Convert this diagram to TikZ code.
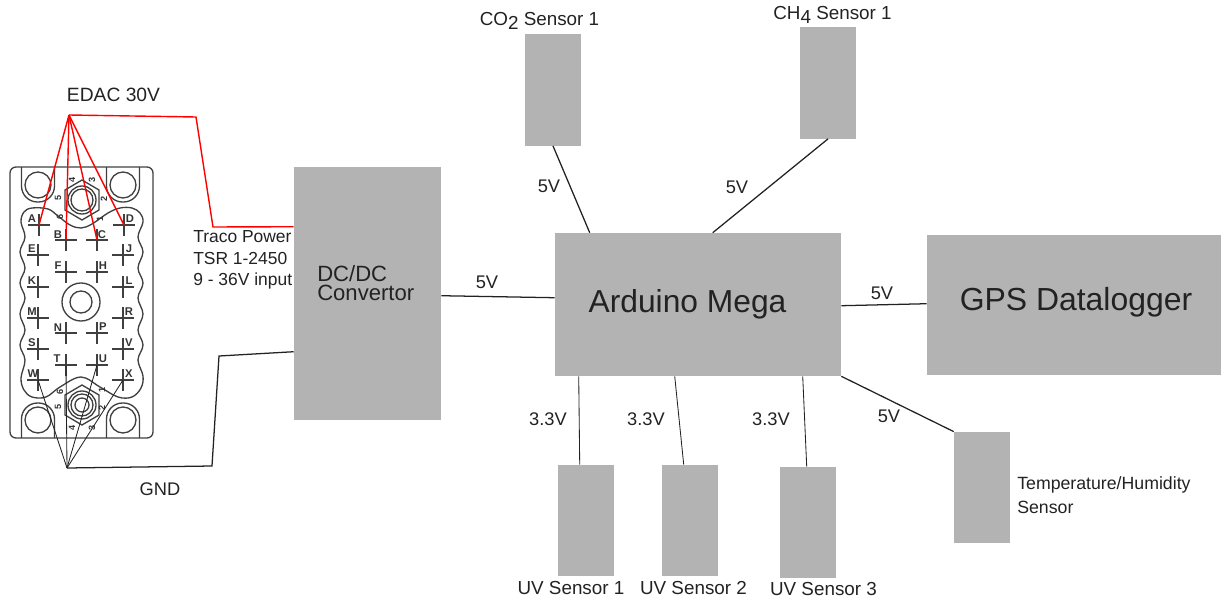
\documentclass[tikz,border=0pt]{standalone}
\usepackage{fontspec}
\setmainfont{Liberation Sans}
\usetikzlibrary{calc}
\definecolor{boxgray}{HTML}{B3B3B3}
\definecolor{inkgray}{HTML}{222222}
\newcommand{\lowdigit}[1]{\raisebox{-2.5pt}{#1}}
\tikzset{
	graybox/.style={fill=boxgray, draw=none, inner sep=0pt, text=inkgray},
	sensorbox/.style={graybox, minimum width=14mm, minimum height=27.8mm},
	lab/.style={inner sep=0pt, text=inkgray, font=\fontsize{13}{15}\selectfont},
	wire/.style={line width=0.9pt, draw=inkgray},
	thinwire/.style={line width=0.6pt, draw=inkgray},
	redwire/.style={line width=1pt, draw=red},
	board/.style={line width=0.95pt, draw=black!75},
	pinlabel/.style={inner sep=0pt, font=\fontsize{8}{8}\selectfont\bfseries, text=black!80},
	hexlabel/.style={inner sep=0pt, font=\fontsize{6.5}{6.5}\selectfont\bfseries, text=black!80}
}

\begin{document}
\begin{tikzpicture}[x=0.25mm, y=-0.25mm]
			\useasboundingbox (0, 0) rectangle (1222, 598);
			%%%%% BOARD %%%%%
			\draw[board, rounded corners=1.5mm] (10, 167) rectangle (153, 438);
			\foreach \hx in {38, 123} {
				\draw[board] (\hx, 185) circle (13);
				\draw[board] (\hx, 420) circle (13);
				\draw[board, rounded corners=4mm] ({\hx-16.5}, 167) -- ({\hx-16.5}, 202) -- ({\hx+16.5}, 202) -- ({\hx+16.5}, 167);
				\draw[board, rounded corners=4mm] ({\hx-16.5}, 438) -- ({\hx-16.5}, 403) -- ({\hx+16.5}, 403) -- ({\hx+16.5}, 438);
			}
			\draw[board] plot[smooth cycle, tension=0.6] coordinates {
				(21, 222) (24, 212) (32, 208) (48, 209) (58, 216) (70, 225) (81, 228) (92, 224) (108, 213) (120, 208)
				(132, 208) (140, 213) (143, 222) (138, 237) (143, 252) (138, 268) (143, 283) (138, 298) (143, 314)
				(138, 330) (143, 345) (138, 360) (143, 376) (141, 388) (132, 397) (118, 397) (100, 387) (81, 377)
				(60, 387) (46, 397) (32, 397) (24, 390) (21, 378) (25, 360) (20, 345) (25, 330) (20, 314) (25, 298)
				(20, 283) (25, 268) (20, 252) (25, 237)};
			\draw[board] (81, 302) circle (19);
			\draw[board] (81, 302) circle (11);
			
			\foreach \hy in {200, 405} {
				\draw[board] (82, {\hy-20}) -- (99, {\hy-10}) -- (99, {\hy+10}) -- (82, {\hy+20}) -- (65, {\hy+10}) -- (65, {\hy-10}) -- cycle;
				\draw[board] (82, \hy) circle (14);
				\draw[board] (82, \hy) circle (11);
			}
			\draw[board] (82, 405) circle (7);
			
			\foreach \dname/\dx/\dy/\drot in {h1/72/180/4, h2/92/180/3, h3/58/198/5, h4/104/199/2, h5/60/217/6, h6/100/219/1} {
				\node[hexlabel, rotate=90] (\dname) at (\dx, \dy) {\drot};
			}
			\foreach \dname/\dx/\dy/\drot in {k1/60/392/6, k2/102/390/1, k3/58/407/5, k4/102/408/2, k5/72/428/4, k6/92/428/3} {
				\node[hexlabel, rotate=90] (\dname) at (\dx, \dy) {\drot};
			}
			
			\foreach \pname/\px/\py/\lx/\ly in {A/39/225/-7/-6, D/124/225/6/-6, B/66/240/-8/-5, C/97/240/5/-5, E/38/255/-6/-6, J/123/255/6/-6,
				F/66/272/-8/-6, H/97/272/6/-6, K/38/287/-6/-6, L/123/287/6/-6, M/38/318/-6/-6, R/123/318/6/-6,
				N/66/333/-8/-5, P/97/333/6/-6, S/38/349/-6/-6, V/123/349/6/-6, T/66/365/-9/-6, U/97/365/6/-6,
				W/38/380/-5/-6, X/123/380/6/-6} {
				\draw[board] ({\px-11}, \py) -- ({\px+11}, \py);
				\draw[board] (\px, {\py-11}) -- (\px, {\py+11});
				\coordinate (pin\pname) at (\px, \py);
				\node[pinlabel] (label\pname) at ({\px+\lx}, {\py+\ly}) {\pname};
			}
			
			%%%%% BOXES %%%%%
			\node[graybox, minimum width=36.75mm, minimum height=63.25mm] (dcdc) at (367.5, 293.5) {};
			\node[graybox, minimum width=71.5mm, minimum height=35.75mm] (arduino) at (698, 304.5) {};
			\node[graybox, minimum width=73.5mm, minimum height=35mm] (gps) at (1074, 305) {};
			\node[sensorbox] (cotwo) at (553, 90) {};
			\node[sensorbox] (chfour) at (828, 83) {};
			\node[sensorbox] (uvone) at (586, 520.5) {};
			\node[sensorbox] (uvtwo) at (690, 520.5) {};
			\node[sensorbox] (uvthree) at (808, 522.5) {};
			\node[sensorbox] (temphum) at (982, 487.5) {};
			
			\node[lab, anchor=west, align=left, font=\fontsize{15.7}{13.6}\selectfont] (dcdclabel) at (317, 283) {DC/DC\\Convertor};
			\node[lab, font=\fontsize{22.6}{26}\selectfont] (arduinolabel) at (687.5, 304) {Arduino Mega};
			\node[lab, font=\fontsize{22.7}{26}\selectfont] (gpslabel) at (1076, 302) {GPS Datalogger};
			
			%%%%% WIRES %%%%%
			\coordinate (edacapex) at (69, 115);
			\coordinate (redbenda) at (196, 117);
			\coordinate (redbendb) at (213, 227);
			\coordinate (gndapex) at (67, 468);
			\coordinate (gndbenda) at (212, 466);
			\coordinate (gndbendb) at (219, 356);
			
			\foreach \pname in {A, B, C, D} {
				\draw[redwire] (edacapex) -- (pin\pname);
			}
			\draw[redwire] (edacapex) -- (redbenda) -- (redbendb) -- ($(dcdc.north west)+(0, 60)$);
			\foreach \pname in {W, T, U, X} {
				\draw[thinwire] (gndapex) -- (pin\pname);
			}
			\draw[wire] (gndapex) -- (gndbenda) -- (gndbendb) -- ($(dcdc.north west)+(0, 185)$);
			
			\draw[wire] ($(dcdc.north east)+(0, 129)$) -- ($(arduino.north west)+(0, 65)$);
			\draw[wire] ($(arduino.north east)+(0, 73)$) -- ($(gps.north west)+(0, 69)$);
			\draw[wire] (cotwo.south) -- ($(arduino.north west)+(35, 0)$);
			\draw[wire] (chfour.south) -- ($(arduino.north west)+(158, 0)$);
			\draw[wire] (arduino.south east) -- (temphum.north west);
			\draw[thinwire] ($(arduino.south west)+(24, 0)$) -- ($(uvone.north west)+(22, 0)$);
			\draw[thinwire] ($(arduino.south west)+(120, 0)$) -- ($(uvtwo.north west)+(22, 0)$);
			\draw[thinwire] ($(arduino.south west)+(248, 0)$) -- ($(uvthree.north west)+(27, 0)$);
			
			%%%%% LABELS %%%%%
			\node[lab, font=\fontsize{13.7}{15}\selectfont] (edaclabel) at (113.5, 95) {EDAC 30V};
			\node[lab] (gndlabel) at (160, 489) {GND};
			\node[lab, anchor=west, align=left, font=\fontsize{12.4}{15.2}\selectfont] (tracolabel) at (193, 260) {Traco Power\\TSR 1-2450\\9 - 36V input};
			\node[lab] (volta) at (549, 186) {5V};
			\node[lab] (voltb) at (737, 187) {5V};
			\node[lab] (voltc) at (487, 282) {5V};
			\node[lab] (voltd) at (882, 293) {5V};
			\node[lab] (volte) at (889, 416) {5V};
			\node[lab] (voltf) at (548, 419) {3.3V};
			\node[lab] (voltg) at (646, 419) {3.3V};
			\node[lab] (volth) at (771, 419) {3.3V};
			\node[lab, font=\fontsize{13.4}{15}\selectfont] (cotwolabel) at (539.5, 21) {CO\lowdigit{2} Sensor 1};
			\node[lab, font=\fontsize{13.4}{15}\selectfont] (chfourlabel) at (832.5, 15) {CH\lowdigit{4} Sensor 1};
			\node[lab, font=\fontsize{13.4}{15}\selectfont] (uvonelabel) at (571, 588) {UV Sensor 1};
			\node[lab, font=\fontsize{13.4}{15}\selectfont] (uvtwolabel) at (693.5, 588) {UV Sensor 2};
			\node[lab, font=\fontsize{13.4}{15}\selectfont] (uvthreelabel) at (823.5, 589) {UV Sensor 3};
			\node[lab, anchor=west, align=left, font=\fontsize{12.6}{17}\selectfont] (temphumlabel) at (1017, 495) {Temperature/Humidity\\Sensor};
			%%%%% END %%%%%
		\end{tikzpicture}
\end{document}
